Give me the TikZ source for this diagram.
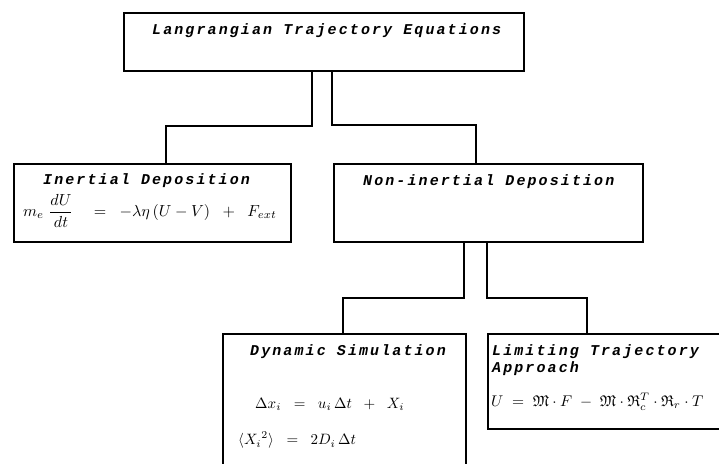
\documentclass[tikz,border=0pt]{standalone}
\usepackage{amsmath,amssymb}
\usepackage{fontspec}
\newfontfamily\dotfont[LetterSpace=14]{Liberation Mono}
\newcommand{\bigeq}[2]{\scalebox{#1}{#2}}
\begin{document}
\begin{tikzpicture}[x=1pt,y=-1pt,
  box/.style={draw=black,line width=1.8pt,anchor=north west,inner sep=0pt},
  link/.style={draw=black,line width=1.2pt},
  ttl/.style={anchor=west,inner sep=0pt,font=\dotfont\bfseries\itshape\fontsize{15}{17}\selectfont},
  eqn/.style={anchor=west,inner sep=0pt}]
\useasboundingbox (0,0) rectangle (719,463);
\clip (0,0) rectangle (719,463);
% boxes
\node[box,minimum width=400pt,minimum height=58pt] (top) at (123,12) {};
\node[box,minimum width=277pt,minimum height=78pt] (inert) at (13,163) {};
\node[box,minimum width=309pt,minimum height=78pt] (noninert) at (333,163) {};
\node[box,minimum width=243pt,minimum height=150pt] (dyn) at (222,333) {};
\node[box,minimum width=240pt,minimum height=95pt] (lim) at (487,333) {};
% texts
\node[ttl] (ttop) at (152,31) {Langrangian Trajectory Equations};
\node[ttl] (tinert) at (43,181) {Inertial Deposition};
\node[eqn] (einert) at (23,211) {\bigeq{1.6}{$m_{e}\;\dfrac{dU}{dt}\quad=\;\;-\lambda\eta\,(U-V)\;\;+\;\;F_{ext}$}};
\node[ttl] (tnon) at (363,182) {Non-inertial Deposition};
\node[ttl] (tdyn) at (250,352) {Dynamic Simulation};
\node[eqn] (edyn1) at (255,404) {\bigeq{1.5}{$\Delta x_{i}\;\;=\;\;u_{i}\,\Delta t\;\;+\;\;X_{i}$}};
\node[eqn] (edyn2) at (238,440) {\bigeq{1.5}{$\langle {X_{i}}^{2}\rangle\;\;=\;\;2D_{i}\,\Delta t$}};
\node[ttl] (tlim1) at (492,352) {Limiting Trajectory};
\node[ttl] (tlim2) at (492,369) {Approach};
\node[eqn] (elim) at (491,402) {\bigeq{1.55}{$U\;=\;\mathfrak{M}\cdot F\;-\;\mathfrak{M}\cdot\mathfrak{R}_{c}^{T}\cdot\mathfrak{R}_{r}\cdot T$}};
% connectors
\coordinate (a1) at (312,126); \coordinate (a2) at (166,126);
\coordinate (b1) at (332,125); \coordinate (b2) at (476,125);
\coordinate (c1) at (464,298); \coordinate (c2) at (343,298);
\coordinate (d1) at (487,298); \coordinate (d2) at (587,298);
\draw[link] (top.south -| a1) -- (a1) -- (a2) -- (a2 |- inert.north);
\draw[link] (top.south -| b1) -- (b1) -- (b2) -- (b2 |- noninert.north);
\draw[link] (noninert.south -| c1) -- (c1) -- (c2) -- (c2 |- dyn.north);
\draw[link] (noninert.south -| d1) -- (d1) -- (d2) -- (d2 |- lim.north);
\end{tikzpicture}
\end{document}
